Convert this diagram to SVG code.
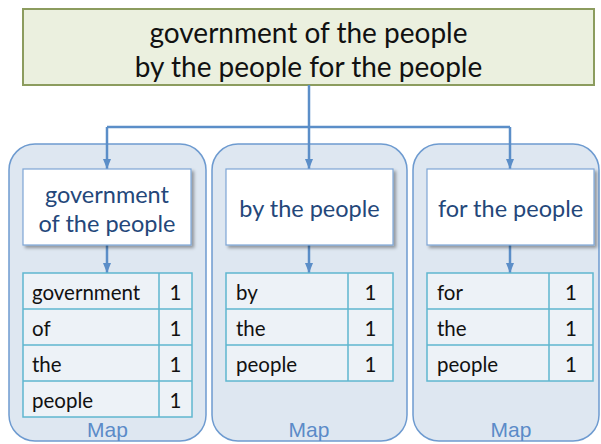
<svg xmlns="http://www.w3.org/2000/svg" width="601" height="444" viewBox="0 0 601 444">
  <defs>
    <filter id="shadow" x="-10%" y="-10%" width="130%" height="140%">
      <feDropShadow dx="2.5" dy="2.5" stdDeviation="1.5" flood-color="#000" flood-opacity="0.35"/>
    </filter>
    <marker id="arrow" viewBox="0 0 10 8" refX="10" refY="4" markerWidth="10" markerHeight="8" markerUnits="userSpaceOnUse" orient="auto">
      <path d="M0,0 L10,4 L0,8 Z" fill="#5b8ec8"/>
    </marker>
  </defs>
  <style>
    .source { fill: #ebf0df; stroke: #8c9c5e; stroke-width: 2; }
    .source-text { font-family: Lato, "Liberation Sans", sans-serif; font-size: 28px; fill: #111; text-anchor: middle; }
    .container { fill: #dee7f1; stroke: #6e9bd0; stroke-width: 1.5; }
    .split { fill: #ffffff; stroke: #7ea6d6; stroke-width: 1.2; filter: url(#shadow); }
    .split-text { font-family: Lato, "Liberation Sans", sans-serif; font-size: 23.5px; fill: #24477a; text-anchor: middle; }
    .table { fill: #edf2f7; stroke: #5fb7cf; stroke-width: 1.5; }
    .grid { stroke: #5fb7cf; stroke-width: 1.5; fill: none; }
    .cell { font-family: Lato, "Liberation Sans", sans-serif; font-size: 20.5px; fill: #111; }
    .num { text-anchor: middle; }
    .label { font-family: "Liberation Sans", Arial, sans-serif; font-size: 21px; fill: #5b8bc8; text-anchor: middle; }
    .conn { stroke: #5b8ec8; stroke-width: 2.5; fill: none; }
  </style>

  <!-- input text -->
  <g id="input">
    <rect class="source" x="23" y="9" width="571" height="76"/>
    <text class="source-text" x="308.5" y="43">government of the people</text>
    <text class="source-text" x="308.5" y="77">by the people for the people</text>
  </g>

  <!-- map containers -->
  <g id="map1">
    <rect class="container" x="9" y="144" width="197" height="297" rx="26"/>
    <text class="label" x="107.5" y="437">Map</text>
  </g>
  <g id="map2">
    <rect class="container" x="212" y="144" width="195" height="297" rx="26"/>
    <text class="label" x="309" y="437">Map</text>
  </g>
  <g id="map3">
    <rect class="container" x="413" y="144" width="186" height="297" rx="26"/>
    <text class="label" x="511" y="437">Map</text>
  </g>

  <!-- connectors -->
  <g id="connectors">
    <path class="conn" d="M309 85 V127"/>
    <path class="conn" d="M107 127 H510"/>
    <path class="conn" d="M107 127 V169" marker-end="url(#arrow)"/>
    <path class="conn" d="M309 127 V169" marker-end="url(#arrow)"/>
    <path class="conn" d="M510 127 V169" marker-end="url(#arrow)"/>
    <path class="conn" d="M107 245 V273" marker-end="url(#arrow)"/>
    <path class="conn" d="M309 245 V273" marker-end="url(#arrow)"/>
    <path class="conn" d="M510 245 V273" marker-end="url(#arrow)"/>
  </g>

  <!-- input splits -->
  <g id="split1">
    <rect class="split" x="23" y="169" width="168" height="76"/>
    <text class="split-text" x="107" y="203">government</text>
    <text class="split-text" x="107" y="232">of the people</text>
  </g>
  <g id="split2">
    <rect class="split" x="226" y="169" width="167" height="76"/>
    <text class="split-text" x="309.5" y="217">by the people</text>
  </g>
  <g id="split3">
    <rect class="split" x="427" y="169" width="167" height="76"/>
    <text class="split-text" x="510.5" y="217">for the people</text>
  </g>

  <!-- map outputs -->
  <g id="output1">
    <rect class="table" x="23" y="273" width="169" height="144"/>
    <path class="grid" d="M159 273 V417 M23 309 H192 M23 345 H192 M23 381 H192"/>
    <text class="cell" x="32" y="300">government</text>
    <text class="cell" x="32" y="336">of</text>
    <text class="cell" x="32" y="372">the</text>
    <text class="cell" x="32" y="408">people</text>
    <text class="cell num" x="175.5" y="300">1</text>
    <text class="cell num" x="175.5" y="336">1</text>
    <text class="cell num" x="175.5" y="372">1</text>
    <text class="cell num" x="175.5" y="408">1</text>
  </g>
  <g id="output2">
    <rect class="table" x="226" y="273" width="167" height="108"/>
    <path class="grid" d="M348 273 V381 M226 309 H393 M226 345 H393"/>
    <text class="cell" x="236" y="300">by</text>
    <text class="cell" x="236" y="336">the</text>
    <text class="cell" x="236" y="372">people</text>
    <text class="cell num" x="370.5" y="300">1</text>
    <text class="cell num" x="370.5" y="336">1</text>
    <text class="cell num" x="370.5" y="372">1</text>
  </g>
  <g id="output3">
    <rect class="table" x="427" y="273" width="166" height="108"/>
    <path class="grid" d="M549 273 V381 M427 309 H593 M427 345 H593"/>
    <text class="cell" x="437" y="300">for</text>
    <text class="cell" x="437" y="336">the</text>
    <text class="cell" x="437" y="372">people</text>
    <text class="cell num" x="571" y="300">1</text>
    <text class="cell num" x="571" y="336">1</text>
    <text class="cell num" x="571" y="372">1</text>
  </g>
</svg>
